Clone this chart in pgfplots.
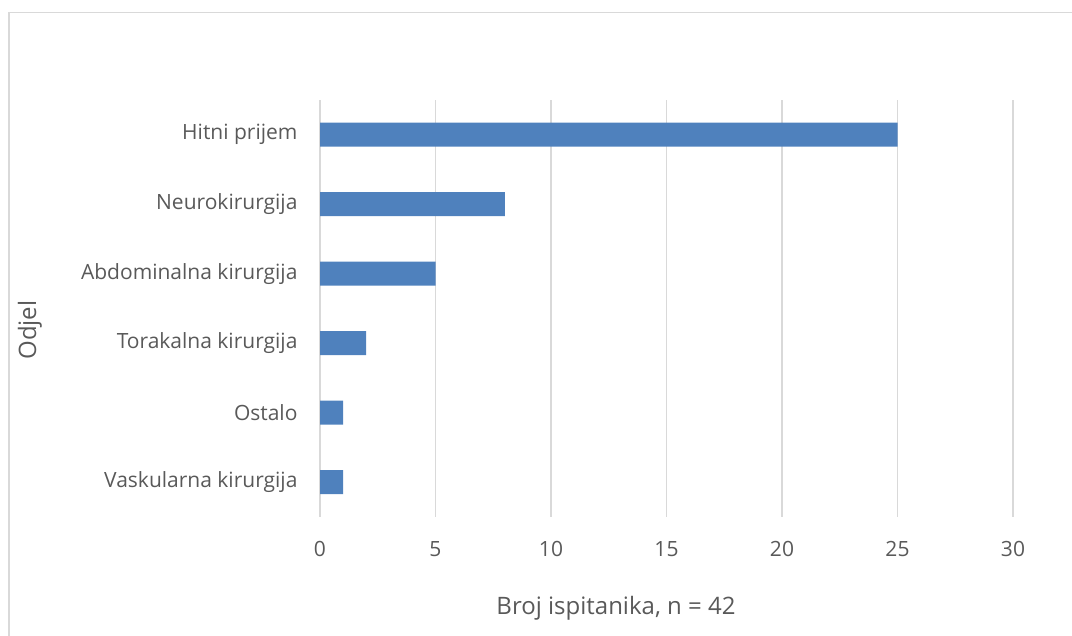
\documentclass[border=0pt]{standalone}
\usepackage{fontspec}
\setmainfont{Open Sans}
\usepackage{pgfplots}
\pgfplotsset{compat=1.18}
\definecolor{barc}{HTML}{4F81BD}
\definecolor{txt}{HTML}{595959}
\definecolor{grd}{HTML}{D9D9D9}
\begin{document}
\begin{tikzpicture}
\path[use as bounding box] (0pt,0pt) rectangle (1072pt,636pt);
\draw[grd, line width=1.5pt] (8.75pt,-2pt) -- (8.75pt,623.25pt) -- (1074pt,623.25pt);
\begin{axis}[
  at={(320pt,119pt)}, anchor=south west,
  scale only axis, width=693pt, height=417pt,
  xmin=0, xmax=30, ymin=-0.5, ymax=5.5,
  xtick={0,5,...,30}, ytick={0,...,5},
  yticklabels={Vaskularna kirurgija, Ostalo, Torakalna kirurgija, Abdominalna kirurgija, Neurokirurgija, Hitni prijem},
  xbar, bar width=24pt,
  xmajorgrids, grid style={grd, line width=1.3pt},
  axis line style={draw=none},
  major tick length=0pt,
  tick label style={txt, font=\fontsize{21}{25}\selectfont},
  xticklabel style={yshift=-21pt},
  yticklabel style={xshift=-19pt},
  /pgf/number format/assume math mode=true,
]
\addplot[fill=barc, draw=none] coordinates {(1,0) (1,1) (2,2) (5,3) (8,4) (25,5)};
\end{axis}
\node[txt, font=\fontsize{24}{28}\selectfont] at (616pt,28pt) {Broj ispitanika, n = 42};
\node[txt, rotate=90, font=\fontsize{24}{28}\selectfont] at (30pt,306pt) {Odjel};
\end{tikzpicture}
\end{document}
